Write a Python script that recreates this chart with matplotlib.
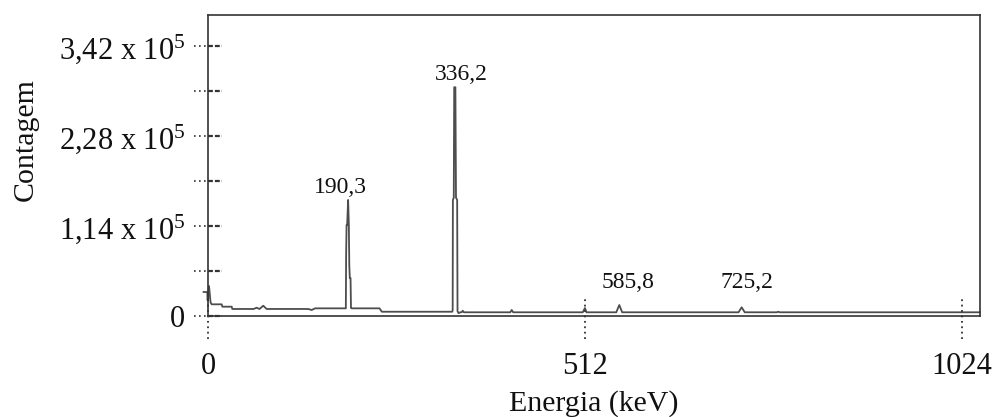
import matplotlib
matplotlib.use('Agg')
import matplotlib.pyplot as plt
import matplotlib.transforms as mtransforms

# spectrum (energy in keV, counts)
energy = [-6, -1, -0.5, 1.4, 3.5, 5.0, 18.6, 19.5, 32.2, 33.0, 62.0, 66.0, 70.0,
          75.0, 79.7, 136.0, 140.8, 145.3, 187.2,
          187.6, 188.2, 189.0, 190.3, 191.3, 191.9, 192.6, 193.6, 194.2, 195.5,
          233.0, 236.0, 331.8,
          332.3, 332.6, 333.8, 334.4, 336.0, 336.8, 338.4, 338.9, 340.3, 342.5,
          344.5, 346.0, 347.5, 410.5, 412.5, 414.5,
          509.0, 512.0, 514.0, 554.5, 558.6, 562.5,
          720.5, 724.8, 729.0, 772.5, 774.5, 776.5, 1048.5]
counts = [30400, 30400, 20000, 38000, 17000, 14800, 14800, 11800, 11800, 8900, 8900, 10500, 8900,
          13000, 8900, 8900, 7600, 9700, 9700,
          77300, 115300, 115300, 147000, 115300, 64000, 48100, 48100, 10100, 9700,
          9700, 5400, 5400,
          7600, 147000, 150000, 289800, 289800, 150000, 147000, 6000, 3600, 4700,
          4700, 6700, 4700, 4700, 7600, 4700,
          4700, 10100, 4700, 4700, 13900, 4700,
          4700, 11000, 4700, 4700, 5400, 4700, 4700]

peak_labels = ['190,3', '336,2', '585,8', '725,2']
label_x = [180.5, 344.3, 570.5, 731.9]
label_y = [155800, 299000, 35500, 35500]

xticks = [0, 512, 1024]
yticks_major = [0, 114000, 228000, 342000]
ytick_labels = ['0', '1,14 x 10$^5$', '2,28 x 10$^5$', '3,42 x 10$^5$']
yticks_minor = [57000, 171000, 285000]

plt.rcParams['font.family'] = ['Liberation Serif', 'DejaVu Serif']
plt.rcParams['mathtext.fontset'] = 'custom'
plt.rcParams['mathtext.rm'] = 'Liberation Serif'
plt.rcParams['mathtext.it'] = 'Liberation Serif:italic'

fig = plt.figure(figsize=(9.92, 4.17), dpi=100)
ax = fig.add_axes([208 / 992, 101 / 417, 772 / 992, 301 / 417])

ax.plot(energy, counts, color='#4d4d4d', lw=1.3, clip_on=False)
ax.set_xlim(0, 1048.5)
ax.set_ylim(0, 381300)

for sp in ax.spines.values():
    sp.set_color('#333333')
    sp.set_linewidth(1.2)

ax.set_xticks(xticks, [str(t) for t in xticks])
ax.set_yticks(yticks_major, ytick_labels)
ax.tick_params(axis='both', length=0, labelsize=22, colors='#111111')
ax.tick_params(axis='y', pad=16.5)
ax.tick_params(axis='x', pad=26)

# dotted/dashed tick marks crossing the frame
ty = mtransforms.blended_transform_factory(ax.transAxes, ax.transData)
dx = 14 / 772
for v in yticks_major + yticks_minor:
    ax.plot([-dx, 0], [v, v], transform=ty, color='#333333', lw=1.2,
            ls=(0, (1, 2)), clip_on=False)
    ax.plot([0, dx], [v, v], transform=ty, color='#333333', lw=1.6,
            ls=(0, (2.2, 0.9)), clip_on=False)
tx = mtransforms.blended_transform_factory(ax.transData, ax.transAxes)
for v in xticks:
    ax.plot([v, v], [-23 / 301, 18 / 301], transform=tx, color='#333333',
            lw=1.3, ls=(0, (1, 2)), clip_on=False)

for lab, x, y in zip(peak_labels, label_x, label_y):
    ax.text(x, y, lab, ha='center', va='baseline', fontsize=17, color='#111111')

ax.set_xlabel('Energia (keV)', fontsize=21.5, color='#111111')
ax.xaxis.set_label_coords(0.5, -0.245)
ax.set_ylabel('Contagem', fontsize=21.5, color='#111111')
ax.yaxis.set_label_coords(-0.219, 0.585)

plt.savefig('out.png', dpi=100)
